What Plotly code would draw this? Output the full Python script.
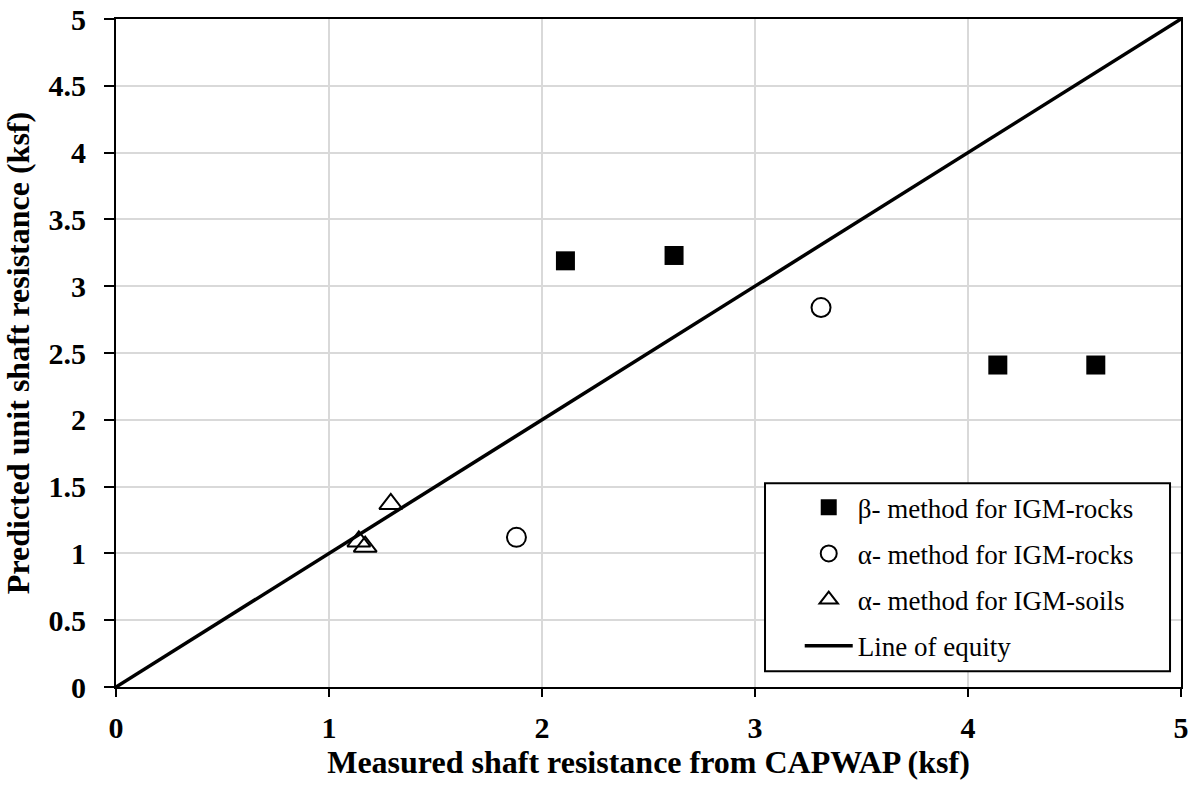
import plotly.graph_objects as go

# Data
beta_rocks_x = [2.11, 2.62, 4.14, 4.60]
beta_rocks_y = [3.19, 3.23, 2.41, 2.41]

alpha_rocks_x = [1.88, 3.31]
alpha_rocks_y = [1.12, 2.84]

alpha_soils_x = [1.14, 1.17, 1.29]
alpha_soils_y = [1.09, 1.05, 1.37]

equity_x = [0, 5]
equity_y = [0, 5]

tick_vals_x = [0, 1, 2, 3, 4, 5]
tick_text_x = ["0", "1", "2", "3", "4", "5"]
tick_vals_y = [0, 0.5, 1, 1.5, 2, 2.5, 3, 3.5, 4, 4.5, 5]
tick_text_y = ["0", "0.5", "1", "1.5", "2", "2.5", "3", "3.5", "4", "4.5", "5"]

FONT = "Liberation Serif"

fig = go.Figure()
fig.add_trace(go.Scatter(
    x=beta_rocks_x, y=beta_rocks_y, mode="markers",
    name="β- method for IGM-rocks", legendgroup="a",
    marker=dict(symbol="square", size=19, color="black"),
))
fig.add_trace(go.Scatter(
    x=alpha_rocks_x, y=alpha_rocks_y, mode="markers",
    name="α- method for IGM-rocks", legendgroup="b",
    marker=dict(symbol="circle-open", size=19, color="black", line=dict(width=2, color="black")),
))
fig.add_trace(go.Scatter(
    x=alpha_soils_x, y=alpha_soils_y, mode="markers",
    name="α- method for IGM-soils", legendgroup="c",
    marker=dict(symbol="triangle-up-open", size=20, color="black", line=dict(width=2, color="black")),
))
fig.add_trace(go.Scatter(
    x=equity_x, y=equity_y, mode="lines",
    name="Line of equity", legendgroup="d",
    line=dict(color="black", width=3.5),
))

axis_common = dict(
    showgrid=True, gridcolor="#d9d9d9", gridwidth=2,
    showline=True, linecolor="black", linewidth=2, mirror=True,
    ticks="outside", tickwidth=2, tickcolor="black",
    zeroline=False, automargin=False,
    tickfont=dict(family=FONT, size=30, color="black", weight="bold"),
)

fig.update_xaxes(
    range=[0, 5], tickvals=tick_vals_x, ticktext=tick_text_x,
    ticklen=8, ticklabelstandoff=5, **axis_common,
    title=dict(text="<b>Measured shaft resistance from CAPWAP (ksf)</b>",
               font=dict(family=FONT, size=32, color="black"), standoff=8),
)
fig.update_yaxes(
    range=[0, 5], tickvals=tick_vals_y, ticktext=tick_text_y,
    ticklen=10, ticklabelstandoff=12, **axis_common,
    title=dict(text="<b>Predicted unit shaft resistance (ksf)</b>",
               font=dict(family=FONT, size=32, color="black"), standoff=10),
)

# Legend frame (white box with black border) behind the legend entries
fig.add_shape(
    type="rect", xref="paper", yref="paper",
    x0=0.6094, x1=0.9897, y0=0.0235, y1=0.305,
    line=dict(color="black", width=2), fillcolor="white", layer="above",
)

fig.update_layout(
    width=1195, height=786,
    margin=dict(l=116, r=14, t=19, b=99),
    plot_bgcolor="white", paper_bgcolor="white",
    font=dict(family=FONT, color="black"),
    legend=dict(
        x=0.642, y=0.025, xanchor="left", yanchor="bottom",
        bgcolor="rgba(0,0,0,0)", borderwidth=0,
        font=dict(family=FONT, size=27, color="black"),
        tracegroupgap=8, itemwidth=48,
    ),
    showlegend=True,
)

fig.write_html("out.html")
